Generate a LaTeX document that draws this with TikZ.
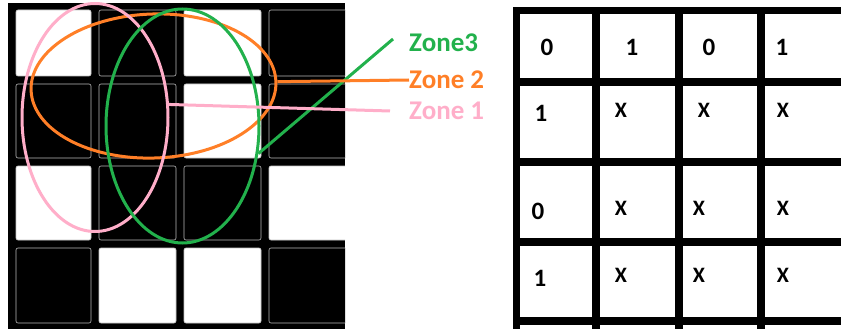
\documentclass[tikz,border=0pt]{standalone}
\usepackage{fontspec}
\setmainfont{Carlito}
\usetikzlibrary{shapes.geometric}
\definecolor{zpink}{HTML}{FFAEC9}
\definecolor{zorange}{HTML}{FF7F27}
\definecolor{zgreen}{HTML}{22B14C}
\tikzset{
  wcell/.style={fill=white,draw=gray!45,line width=0.6pt,rounded corners=2pt},
  bcell/.style={fill=black,draw=gray!55,line width=0.6pt,rounded corners=2pt},
  zone/.style={draw,ellipse,line width=3pt,inner sep=0pt},
  zlabel/.style={anchor=west,inner sep=0pt,font=\fontsize{27}{32}\selectfont\bfseries},
  bit/.style={font=\fontsize{25}{30}\selectfont\bfseries},
  xmark/.style={font=\fontsize{22}{26}\selectfont\bfseries}
}
\begin{document}
\begin{tikzpicture}[x=1pt,y=-1pt]
  \useasboundingbox (0,0) rectangle (841,329);
  % left board
  \fill[black] (8,3) rectangle (345,329);
  \begin{scope}
    \clip (8,3) rectangle (345,329);
    \draw[wcell] (16,10) rectangle (91,76);
    \draw[bcell] (99,10) rectangle (176,76);
    \draw[wcell] (184,10) rectangle (261,76);
    \draw[bcell] (269,10) rectangle (352,76);
    \draw[bcell] (16,84) rectangle (91,158);
    \draw[bcell] (99,84) rectangle (176,158);
    \draw[wcell] (184,84) rectangle (261,158);
    \draw[bcell] (269,84) rectangle (352,158);
    \draw[wcell] (16,166) rectangle (91,240);
    \draw[bcell] (99,166) rectangle (176,240);
    \draw[bcell] (184,166) rectangle (261,240);
    \draw[wcell] (269,166) rectangle (352,240);
    \draw[bcell] (16,248) rectangle (91,323);
    \draw[wcell] (99,248) rectangle (176,323);
    \draw[wcell] (184,248) rectangle (261,323);
    \draw[bcell] (269,248) rectangle (352,323);
  \end{scope}
  % zones
  \node[zone,zorange,minimum width=245pt,minimum height=144pt,rotate=2]
    (orangezone) at (153.5,86) {};
  \node[zone,zpink,minimum width=146pt,minimum height=228pt]
    (pinkzone) at (95,117.5) {};
  \node[zone,zgreen,minimum width=153pt,minimum height=234pt]
    (greenzone) at (182.5,126) {};
  \node[zlabel,zgreen] (zone3) at (409,43) {Zone3};
  \node[zlabel,zorange] (zone2) at (409,80) {Zone 2};
  \node[zlabel,zpink] (zone1) at (409,111) {Zone 1};
  \coordinate (g3) at (393,39);
  \coordinate (p1) at (390,111);
  \draw[zgreen,line width=3pt] (greenzone.-20) -- (g3);
  \draw[zorange,line width=3pt] (orangezone.east) -- (zone2.west);
  \draw[zpink,line width=3pt] (pinkzone.10) -- (p1);
  % right table
  \fill[black] (513,7) rectangle (841,329);
  \fill[white] (520,14) rectangle (592,78);
  \fill[white] (600,14) rectangle (675,78);
  \fill[white] (683,14) rectangle (757,78);
  \fill[white] (765,14) rectangle (841,78);
  \fill[white] (520,86) rectangle (592,158);
  \fill[white] (600,86) rectangle (675,158);
  \fill[white] (683,86) rectangle (757,158);
  \fill[white] (765,86) rectangle (841,158);
  \fill[white] (520,166) rectangle (592,238);
  \fill[white] (600,166) rectangle (675,238);
  \fill[white] (683,166) rectangle (757,238);
  \fill[white] (765,166) rectangle (841,238);
  \fill[white] (520,246) rectangle (592,317);
  \fill[white] (600,246) rectangle (675,317);
  \fill[white] (683,246) rectangle (757,317);
  \fill[white] (765,246) rectangle (841,317);
  \fill[white] (520,325) rectangle (592,329);
  \fill[white] (600,325) rectangle (675,329);
  \fill[white] (683,325) rectangle (757,329);
  \fill[white] (765,325) rectangle (841,329);
  \node[bit] (h0) at (547,47) {0};
  \node[bit] (h1) at (632,47) {1};
  \node[bit] (h2) at (709,47) {0};
  \node[bit] (h3) at (782,47) {1};
  \node[bit] (v1) at (541,113) {1};
  \node[bit] (v2) at (538,211) {0};
  \node[bit] (v3) at (540,278) {1};
  \node[xmark] (x11) at (621,110) {X};
  \node[xmark] (x12) at (704,110) {X};
  \node[xmark] (x13) at (783,110) {X};
  \node[xmark] (x21) at (621,208) {X};
  \node[xmark] (x22) at (699,208) {X};
  \node[xmark] (x23) at (783,208) {X};
  \node[xmark] (x31) at (621,275) {X};
  \node[xmark] (x32) at (699,275) {X};
  \node[xmark] (x33) at (783,275) {X};
\end{tikzpicture}
\end{document}
